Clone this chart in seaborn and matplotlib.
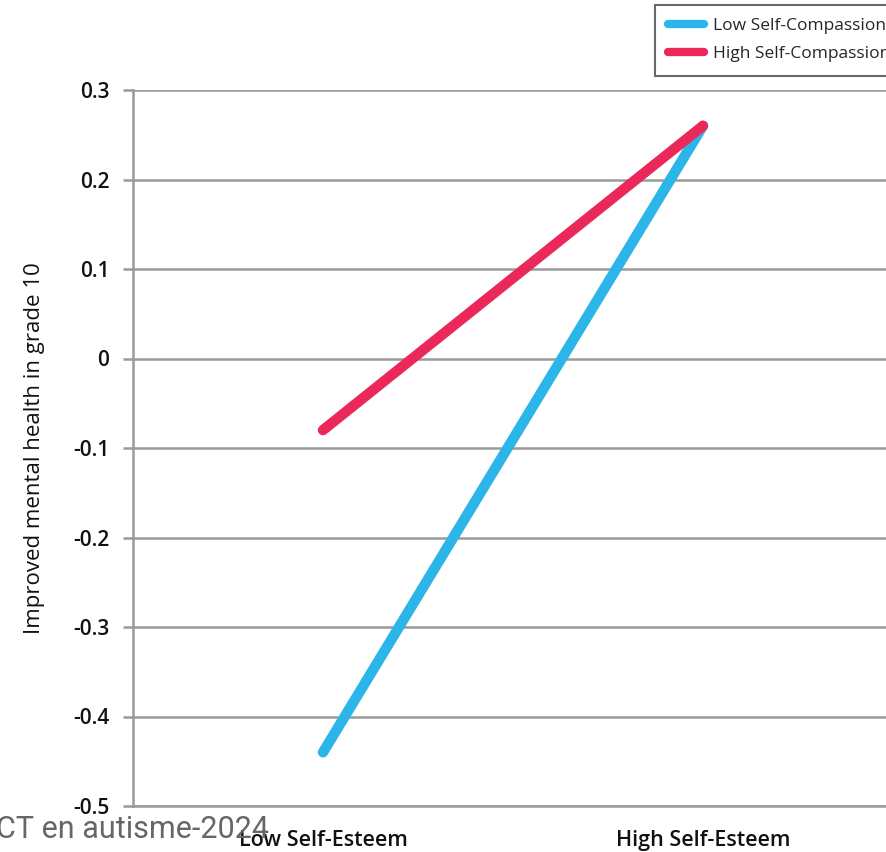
import matplotlib
matplotlib.use("Agg")
import matplotlib.pyplot as plt
import seaborn as sns
import pandas as pd
from matplotlib.lines import Line2D

sns.set_theme(style="white")
plt.rcParams["font.family"] = ["Open Sans", "DejaVu Sans"]

# Data
self_esteem = ["Low Self-Esteem", "High Self-Esteem"]
low_compassion = [-0.44, 0.26]
high_compassion = [-0.08, 0.26]
groups = ["Low Self-Compassion", "High Self-Compassion"]
colors = ["#2BB5E8", "#EA285A"]
yticks = [0.3, 0.2, 0.1, 0, -0.1, -0.2, -0.3, -0.4, -0.5]

df = pd.DataFrame({
    "esteem": self_esteem * 2,
    "value": low_compassion + high_compassion,
    "group": [groups[0]] * 2 + [groups[1]] * 2,
})

fig = plt.figure(figsize=(8.87, 8.52), dpi=100)
ax = fig.add_axes([133 / 887, 46 / 852, 760 / 887, 716 / 852])

sns.lineplot(data=df, x="esteem", y="value", hue="group", palette=colors,
             linewidth=7.5, ax=ax, legend=False, sort=False)
for ln in ax.lines:
    ln.set_solid_capstyle("round")

ax.set_xlim(-0.5, 1.5)
ax.set_ylim(-0.5, 0.3)
ax.set_yticks(yticks)
ax.set_yticklabels([f"{t:g}" for t in yticks], fontsize=15, fontweight="semibold")
ax.set_xticks([0, 1])
ax.set_xticklabels(self_esteem, fontsize=15.5, fontweight="semibold")
ax.yaxis.grid(True, color="#9A9A9A", linewidth=1.8)
ax.set_axisbelow(True)
for s in ["top", "right"]:
    ax.spines[s].set_visible(False)
for s in ["left", "bottom"]:
    ax.spines[s].set_color("#9A9A9A")
    ax.spines[s].set_linewidth(1.8)
ax.tick_params(axis="y", which="major", left=True, length=7, width=1.8,
               color="#9A9A9A", pad=10, labelcolor="#111111")
ax.tick_params(axis="x", bottom=False, pad=11, labelcolor="#111111")
ax.set_xlabel("")
ax.set_ylabel("Improved mental health in grade 10", fontsize=16, labelpad=20,
              color="#111111", fontweight="medium")

handles = [Line2D([0], [0], color=c, linewidth=6, solid_capstyle="round") for c in colors]
leg = fig.legend(handles, groups, loc="upper left",
                 bbox_to_anchor=(655 / 887, 1 - 5 / 852), frameon=True,
                 fancybox=False, fontsize=12.5, handlelength=2.1,
                 handletextpad=0.5, borderaxespad=0, borderpad=0.75,
                 labelspacing=0.7)
leg.get_frame().set_edgecolor("#444444")
leg.get_frame().set_linewidth(1.5)

fig.text(-4 / 887, 1 - 829 / 852, "CT en autisme-2024", fontsize=22,
         color="#666666", va="center", ha="left",
         family=["Roboto", "DejaVu Sans"])

fig.savefig("out.png", dpi=100)
